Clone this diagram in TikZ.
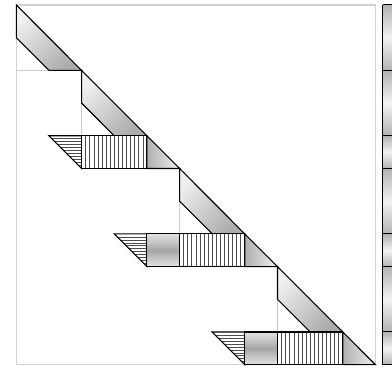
\documentclass[tikz,border=0pt]{standalone}
\begin{document}
\begin{tikzpicture}
\tikzset{
 frameline/.style={draw=gray!35, line width=1.6pt},
 guide/.style={draw=gray!40, line width=1pt},
 outline/.style={draw=black, line width=1.1pt, line join=miter},
 bandshade/.style={left color=gray!12, right color=gray!65, shading angle=45},
 trishade/.style={left color=gray!62, right color=gray!12},
 cylshade/.style={top color=gray!22, bottom color=gray!22, middle color=gray!70},
 stripshade/.style={top color=gray!60, bottom color=gray!60, middle color=gray!10},
 hatchline/.style={draw=black!70, line width=0.6pt},
}
\useasboundingbox (0,0) rectangle (392pt,-369pt);
\clip (0,0) rectangle (392pt,-369pt);
\fill[white] (0,0) rectangle (392pt,-369pt);
\begin{scope}[shift={(16.3pt,-5pt)}, x=32.65pt, y=-32.7pt]
 % frame
 \draw[frameline] (0,0) rectangle (11,11);
 % guide lines
 \draw[guide] (0,2) -- (1,2);
 \draw[guide] (2,3) -- (2,4);
 \draw[guide] (5,6) -- (5,7);
 \draw[guide] (8,9) -- (8,10);
 % diagonal bands
 \foreach \k in {0,2,5,8} {
   \shade[bandshade] (\k,\k) -- ({\k+2},{\k+2}) -- ({\k+1},{\k+2}) -- (\k,{\k+1}) -- cycle;
   \draw[outline] (\k,\k) -- ({\k+2},{\k+2}) -- ({\k+1},{\k+2}) -- (\k,{\k+1}) -- cycle;
 }
 % horizontal-hatched triangles
 \foreach \a/\r in {1/4,3/7,6/10} {
   \fill[white] (\a,\r) -- ({\a+1},\r) -- ({\a+1},{\r+1}) -- cycle;
   \foreach \t in {1,...,10} {
     \draw[hatchline] ({\a+\t/11},{\r+\t/11}) -- ({\a+1},{\r+\t/11});
   }
   \draw[outline] (\a,\r) -- ({\a+1},\r) -- ({\a+1},{\r+1}) -- cycle;
 }
 % vertical-hatched rectangles
 \foreach \a/\r in {2/4,5/7,8/10} {
   \fill[white] (\a,\r) rectangle ({\a+2},{\r+1});
   \foreach \t in {1,...,15} {
     \draw[hatchline] ({\a+\t/8},\r) -- ({\a+\t/8},{\r+1});
   }
   \draw[outline] (\a,\r) rectangle ({\a+2},{\r+1});
 }
 % shaded rectangles
 \foreach \a/\r in {4/7,7/10} {
   \shade[cylshade] (\a,\r) rectangle ({\a+1},{\r+1});
   \draw[outline] (\a,\r) rectangle ({\a+1},{\r+1});
 }
 % shaded end triangles
 \foreach \r in {4,7,10} {
   \shade[trishade] (\r,\r) -- ({\r+1},{\r+1}) -- (\r,{\r+1}) -- cycle;
   \draw[outline] (\r,\r) -- ({\r+1},{\r+1}) -- (\r,{\r+1}) -- cycle;
 }
 % right strip
 \foreach \a/\b in {0/2,2/4,4/5,5/7,7/8,8/10,10/11} {
   \shade[stripshade] (11.22,\a) rectangle (11.9,\b);
   \draw[black, line width=1pt] (11.22,\a) -- (11.9,\a);
 }
 \draw[black, line width=1pt] (11.22,11) -- (11.9,11);
 \draw[black, line width=1.5pt] (11.22,0) -- (11.22,11);
\end{scope}
\end{tikzpicture}
\end{document}
